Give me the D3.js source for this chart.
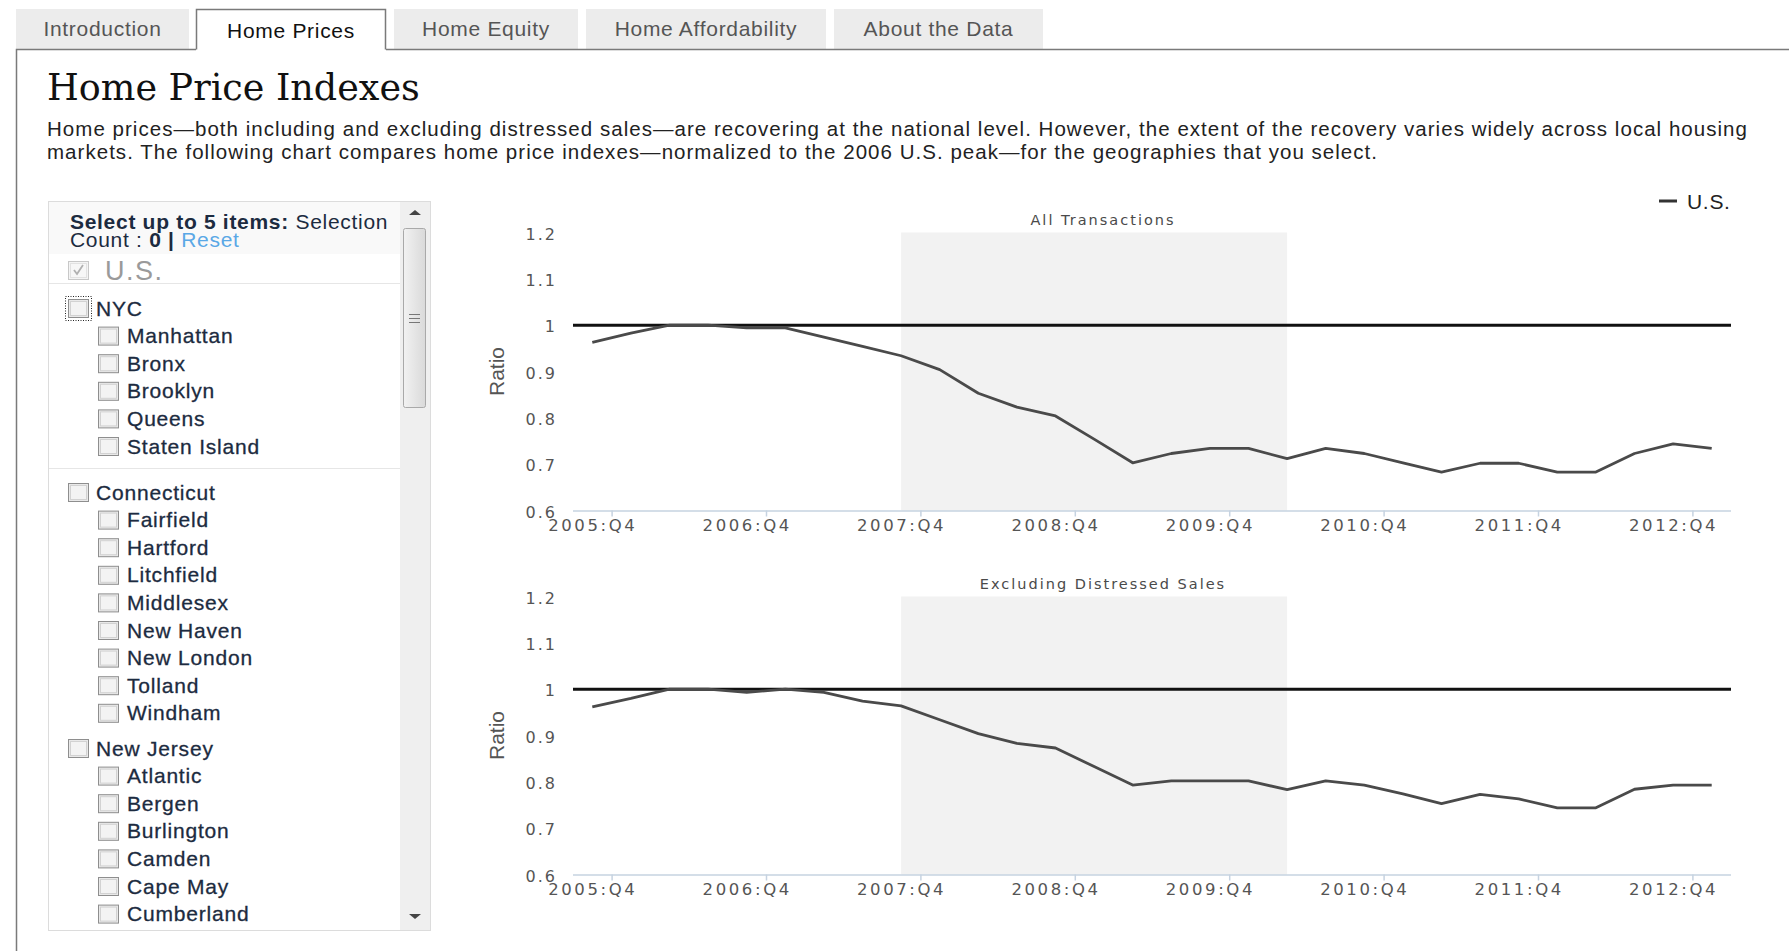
<!DOCTYPE html>
<html>
<head>
<meta charset="utf-8">
<script src="https://cdn.jsdelivr.net/npm/d3@7"></script>
<style>
  html, body { margin: 0; padding: 0; background: #fff; }
  svg { display: block; }
</style>
</head>
<body>
<div id="page"></div>
<script>
// ── Data ──────────────────────────────────────────────────────────────────
const tabNames = ['Introduction', 'Home Prices', 'Home Equity', 'Home Affordability', 'About the Data'];
const activeTab = 'Home Prices';

const quarters = [
  '2005:Q4',
  '2006:Q1', '2006:Q2', '2006:Q3', '2006:Q4',
  '2007:Q1', '2007:Q2', '2007:Q3', '2007:Q4',
  '2008:Q1', '2008:Q2', '2008:Q3', '2008:Q4',
  '2009:Q1', '2009:Q2', '2009:Q3', '2009:Q4',
  '2010:Q1', '2010:Q2', '2010:Q3', '2010:Q4',
  '2011:Q1', '2011:Q2', '2011:Q3', '2011:Q4',
  '2012:Q1', '2012:Q2', '2012:Q3', '2012:Q4',
  '2013:Q1'
];

// U.S. index, all transactions (ratio to 2006 peak)
const allTransactions = [
  0.963, 0.983, 1.000, 1.000, 0.994, 0.994, 0.974, 0.954, 0.934, 0.904,
  0.853, 0.823, 0.804, 0.754, 0.703, 0.723, 0.734, 0.734, 0.712, 0.734,
  0.723, 0.703, 0.683, 0.702, 0.702, 0.683, 0.683, 0.723, 0.744, 0.734
];

// U.S. index, excluding distressed sales
const excludingDistressed = [
  0.962, 0.980, 1.000, 1.000, 0.993, 1.000, 0.993, 0.974, 0.964, 0.934,
  0.904, 0.883, 0.873, 0.833, 0.793, 0.802, 0.802, 0.802, 0.783, 0.802,
  0.793, 0.774, 0.753, 0.773, 0.763, 0.744, 0.744, 0.784, 0.793, 0.793
];

const recession = ['2007:Q4', '2010:Q2'];
const yTicks = [0.6, 0.7, 0.8, 0.9, 1.0, 1.1, 1.2];
const xTickQuarters = ['2005:Q4', '2006:Q4', '2007:Q4', '2008:Q4', '2009:Q4', '2010:Q4', '2011:Q4', '2012:Q4'];
const peakLine = 1.0;

const groups = [
  { name: 'NYC', items: ['Manhattan', 'Bronx', 'Brooklyn', 'Queens', 'Staten Island'] },
  { name: 'Connecticut', items: ['Fairfield', 'Hartford', 'Litchfield', 'Middlesex', 'New Haven', 'New London', 'Tolland', 'Windham'] },
  { name: 'New Jersey', items: ['Atlantic', 'Bergen', 'Burlington', 'Camden', 'Cape May', 'Cumberland'] }
];

const descLines = [
  'Home prices\u2014both including and excluding distressed sales\u2014are recovering at the national level. However, the extent of the recovery varies widely across local housing',
  'markets. The following chart compares home price indexes\u2014normalized to the 2006 U.S. peak\u2014for the geographies that you select.'
];

// ── Layout ────────────────────────────────────────────────────────────────
const W = 1789, H = 951;
const SANS = 'Liberation Sans, Arial, sans-serif';
const CHART_FONT = 'DejaVu Sans, Verdana, sans-serif';
const LIST_COLOR = '#1c2b40';

const svg = d3.select('#page').append('svg').attr('width', W).attr('height', H);

// ── Tabs ──────────────────────────────────────────────────────────────────
const tabX = [16, 196, 394, 586, 834];
const tabW = [173, 190, 184, 240, 209];
const tabTop = 9, tabBottom = 49.5;

const tabsG = svg.append('g');
tabNames.forEach((name, i) => {
  const active = name === activeTab;
  const x = tabX[i], w = tabW[i];
  if (active) {
    tabsG.append('rect').attr('x', x).attr('y', tabTop).attr('width', w).attr('height', tabBottom - tabTop + 1)
      .attr('fill', '#fff');
    tabsG.append('path')
      .attr('d', `M${x + 0.5},${tabBottom} V${tabTop + 0.5} H${x + w - 0.5} V${tabBottom}`)
      .attr('fill', 'none').attr('stroke', '#7a7a7a').attr('stroke-width', 1.5);
  } else {
    tabsG.append('rect').attr('x', x).attr('y', tabTop).attr('width', w).attr('height', tabBottom - tabTop - 0.5)
      .attr('fill', '#ececec');
  }
  tabsG.append('text')
    .attr('x', x + w / 2).attr('y', active ? 37.5 : 36)
    .attr('text-anchor', 'middle')
    .attr('font-family', SANS).attr('font-size', 21).attr('letter-spacing', 0.7)
    .attr('fill', active ? '#111' : '#555')
    .text(name);
});

// content frame: line under tabs + left border
const aTab = tabNames.indexOf(activeTab);
svg.append('path')
  .attr('d', `M16.5,${H} V${tabBottom} H${tabX[aTab]} M${tabX[aTab] + tabW[aTab]},${tabBottom} H${W}`)
  .attr('fill', 'none').attr('stroke', '#7a7a7a').attr('stroke-width', 1.5);

// ── Heading + intro text ─────────────────────────────────────────────────
svg.append('text')
  .attr('x', 47).attr('y', 100)
  .attr('font-family', 'DejaVu Serif, Georgia, serif').attr('font-size', 36.5)
  .attr('fill', '#111')
  .text('Home Price Indexes');

const desc = svg.append('g').selectAll('text').data(descLines).join('text')
  .attr('x', 47).attr('y', (d, i) => 136 + i * 23)
  .attr('font-family', SANS).attr('font-size', 20.5)
  .attr('fill', '#222')
  .text(d => d);
// the first line runs to the right margin of the page; spread both lines alike
const natural = desc.node().getComputedTextLength();
const spacing = (1701 - natural) / descLines[0].length;
desc.attr('letter-spacing', spacing);

// ── Selection list (left panel) ─────────────────────────────────────────
const list = { x: 48, y: 201, w: 382, h: 729, sbW: 30 };
const listG = svg.append('g');

listG.append('rect')
  .attr('x', list.x + 0.5).attr('y', list.y + 0.5).attr('width', list.w).attr('height', list.h)
  .attr('fill', '#fff').attr('stroke', '#dcdcdc');
listG.append('rect')
  .attr('x', list.x + 1).attr('y', list.y + 1).attr('width', list.w - list.sbW - 1).attr('height', 52)
  .attr('fill', '#f9f9f9');

// header
const hdr = listG.append('text').attr('x', 70).attr('y', 229)
  .attr('font-family', SANS).attr('font-size', 21).attr('letter-spacing', 0.7).attr('fill', LIST_COLOR);
hdr.append('tspan').attr('font-weight', 'bold').text('Select up to 5 items: ');
hdr.append('tspan').text('Selection');
const hdr2 = listG.append('text').attr('x', 70).attr('y', 247)
  .attr('font-family', SANS).attr('font-size', 21).attr('letter-spacing', 0.7).attr('fill', LIST_COLOR);
hdr2.append('tspan').text('Count : ');
hdr2.append('tspan').attr('font-weight', 'bold').text('0 | ');
hdr2.append('tspan').attr('fill', '#5aa8e6').text('Reset');

function checkbox(g, x, yc, opts = {}) {
  const w = 20, h = 18;
  const y = yc - h / 2;
  g.append('rect').attr('x', x + 0.5).attr('y', y + 0.5).attr('width', w).attr('height', h)
    .attr('fill', opts.disabled ? '#f4f4f4' : '#e9e9e9')
    .attr('stroke', opts.disabled ? '#c8c8c8' : '#8e8e8e');
  g.append('rect').attr('x', x + 2.5).attr('y', y + 2.5).attr('width', w - 4).attr('height', h - 4)
    .attr('fill', opts.disabled ? '#f7f7f7' : '#f3f3f3').attr('stroke', opts.disabled ? '#e2e2e2' : '#d2d2d2');
  if (opts.checked) {
    g.append('path')
      .attr('d', `M${x + 6},${yc} L${x + 9},${yc + 4} L${x + 15},${yc - 5}`)
      .attr('fill', 'none').attr('stroke', '#b0b0b0').attr('stroke-width', 1.8);
  }
  if (opts.focus) {
    g.append('rect').attr('x', x - 2.5).attr('y', y - 2.5).attr('width', w + 6).attr('height', h + 6)
      .attr('fill', 'none').attr('stroke', '#222').attr('stroke-width', 1).attr('stroke-dasharray', '1,1.5');
  }
}

// U.S. row (always checked, disabled)
checkbox(listG, 68, 270, { checked: true, disabled: true });
listG.append('text').attr('x', 105).attr('y', 270).attr('dy', '0.36em')
  .attr('font-family', SANS).attr('font-size', 27).attr('letter-spacing', 1.5)
  .attr('fill', '#9a9a9a').text('U.S.');

const innerRight = list.x + list.w - list.sbW;
const sep = y => listG.append('line').attr('x1', list.x + 1).attr('x2', innerRight)
  .attr('y1', y + 0.5).attr('y2', y + 0.5).attr('stroke', '#e6e6e6');
sep(283);

const label = (x, y, t) => listG.append('text').attr('x', x).attr('y', y).attr('dy', '0.36em')
  .attr('font-family', SANS).attr('font-size', 21).attr('letter-spacing', 0.8)
  .attr('fill', LIST_COLOR).attr('stroke', LIST_COLOR).attr('stroke-width', 0.3)
  .text(t);

const rowH = 27.6;
const groupStart = [308, 492, 748];
groups.forEach((grp, gi) => {
  const y = groupStart[gi];
  checkbox(listG, 68, y, { focus: gi === 0 });
  label(96, y, grp.name);
  grp.items.forEach((name, j) => {
    const yy = y + (j + 1) * rowH;
    checkbox(listG, 98, yy);
    label(127, yy, name);
  });
  if (gi === 0) sep(468);
});

// scrollbar
const sbX = innerRight;
listG.append('rect').attr('x', sbX).attr('y', list.y + 1).attr('width', list.sbW).attr('height', list.h - 1)
  .attr('fill', '#efefef');
listG.append('path')
  .attr('d', `M${sbX + 9},215 L${sbX + 15},210 L${sbX + 21},215 Z`).attr('fill', '#444');
listG.append('path')
  .attr('d', `M${sbX + 9},914 L${sbX + 15},919 L${sbX + 21},914 Z`).attr('fill', '#444');
const thumbGrad = svg.append('defs').append('linearGradient').attr('id', 'thumb');
thumbGrad.append('stop').attr('offset', '0%').attr('stop-color', '#f2f2f2');
thumbGrad.append('stop').attr('offset', '100%').attr('stop-color', '#d9d9d9');
listG.append('rect').attr('x', sbX + 3.5).attr('y', 228.5).attr('width', 22).attr('height', 179).attr('rx', 2)
  .attr('fill', 'url(#thumb)').attr('stroke', '#a9a9a9');
[-4, 0, 4].forEach(o => listG.append('line')
  .attr('x1', sbX + 9).attr('x2', sbX + 20).attr('y1', 318 + o + 0.5).attr('y2', 318 + o + 0.5)
  .attr('stroke', '#777'));

// ── Charts ───────────────────────────────────────────────────────────────
const plotX0 = 573, plotX1 = 1731;
const x = d3.scalePoint().domain(quarters).range([plotX0, plotX1]).padding(0.5);
const step = x.step();

function drawChart(values, title, top, bottom) {
  const y = d3.scaleLinear().domain([0.6, 1.2]).range([bottom, top]);
  const g = svg.append('g');

  // recession shading
  g.append('rect')
    .attr('x', x(recession[0])).attr('width', x(recession[1]) - x(recession[0]))
    .attr('y', y(1.2)).attr('height', y(0.6) - y(1.2))
    .attr('fill', '#f2f2f2');

  // title
  g.append('text').attr('x', 1103).attr('y', y(1.2) - 13).attr('dy', '0.35em')
    .attr('text-anchor', 'middle').attr('font-family', CHART_FONT).attr('font-size', 14.5)
    .attr('letter-spacing', 2).attr('fill', '#4a4a4a').text(title);

  // y axis labels
  const ya = g.append('g').attr('transform', `translate(${plotX0 - 16},0)`)
    .call(d3.axisLeft(y).tickValues(yTicks).tickSize(0).tickPadding(0)
      .tickFormat(d => String(+d.toFixed(1))));
  ya.select('.domain').remove();
  ya.selectAll('text').attr('font-family', CHART_FONT).attr('font-size', 16)
    .attr('letter-spacing', 2).attr('fill', '#555').attr('dy', '0.42em');

  // x axis
  const xa = g.append('g').attr('transform', `translate(0,${bottom})`)
    .call(d3.axisBottom(x).tickValues(xTickQuarters).tickSize(0).tickPadding(9));
  xa.select('.domain').attr('stroke', '#c6d3e1').attr('stroke-width', 1.5)
    .attr('d', `M${plotX0},0.5H${plotX1}`);
  xa.selectAll('text').attr('font-family', CHART_FONT).attr('font-size', 16.5)
    .attr('letter-spacing', 2.6).attr('fill', '#555');
  // tick marks sit between categories
  xa.selectAll('.tick').append('line')
    .attr('x1', step / 2).attr('x2', step / 2).attr('y1', 0).attr('y2', 6)
    .attr('stroke', '#c6d3e1').attr('stroke-width', 1.5);

  // axis title
  g.append('text')
    .attr('transform', `translate(497,${(top + bottom) / 2}) rotate(-90)`)
    .attr('text-anchor', 'middle').attr('dy', '0.35em')
    .attr('font-family', SANS).attr('font-size', 21).attr('fill', '#555')
    .text('Ratio');

  // peak reference line
  g.append('line').attr('x1', plotX0).attr('x2', plotX1)
    .attr('y1', y(peakLine)).attr('y2', y(peakLine))
    .attr('stroke', '#111').attr('stroke-width', 3);

  // U.S. series
  g.append('path').datum(values)
    .attr('d', d3.line().x((d, i) => x(quarters[i])).y(d => y(d)))
    .attr('fill', 'none').attr('stroke', '#4a4a4a').attr('stroke-width', 2.8)
    .attr('stroke-linejoin', 'round');
}

drawChart(allTransactions, 'All Transactions', 232.5, 510.5);
drawChart(excludingDistressed, 'Excluding Distressed Sales', 596.5, 874.5);

// legend
svg.append('line').attr('x1', 1659).attr('x2', 1677).attr('y1', 201).attr('y2', 201)
  .attr('stroke', '#333').attr('stroke-width', 3);
svg.append('text').attr('x', 1687).attr('y', 201).attr('dy', '0.36em')
  .attr('font-family', SANS).attr('font-size', 21).attr('letter-spacing', 0.7)
  .attr('fill', '#222').text('U.S.');
</script>
</body>
</html>
